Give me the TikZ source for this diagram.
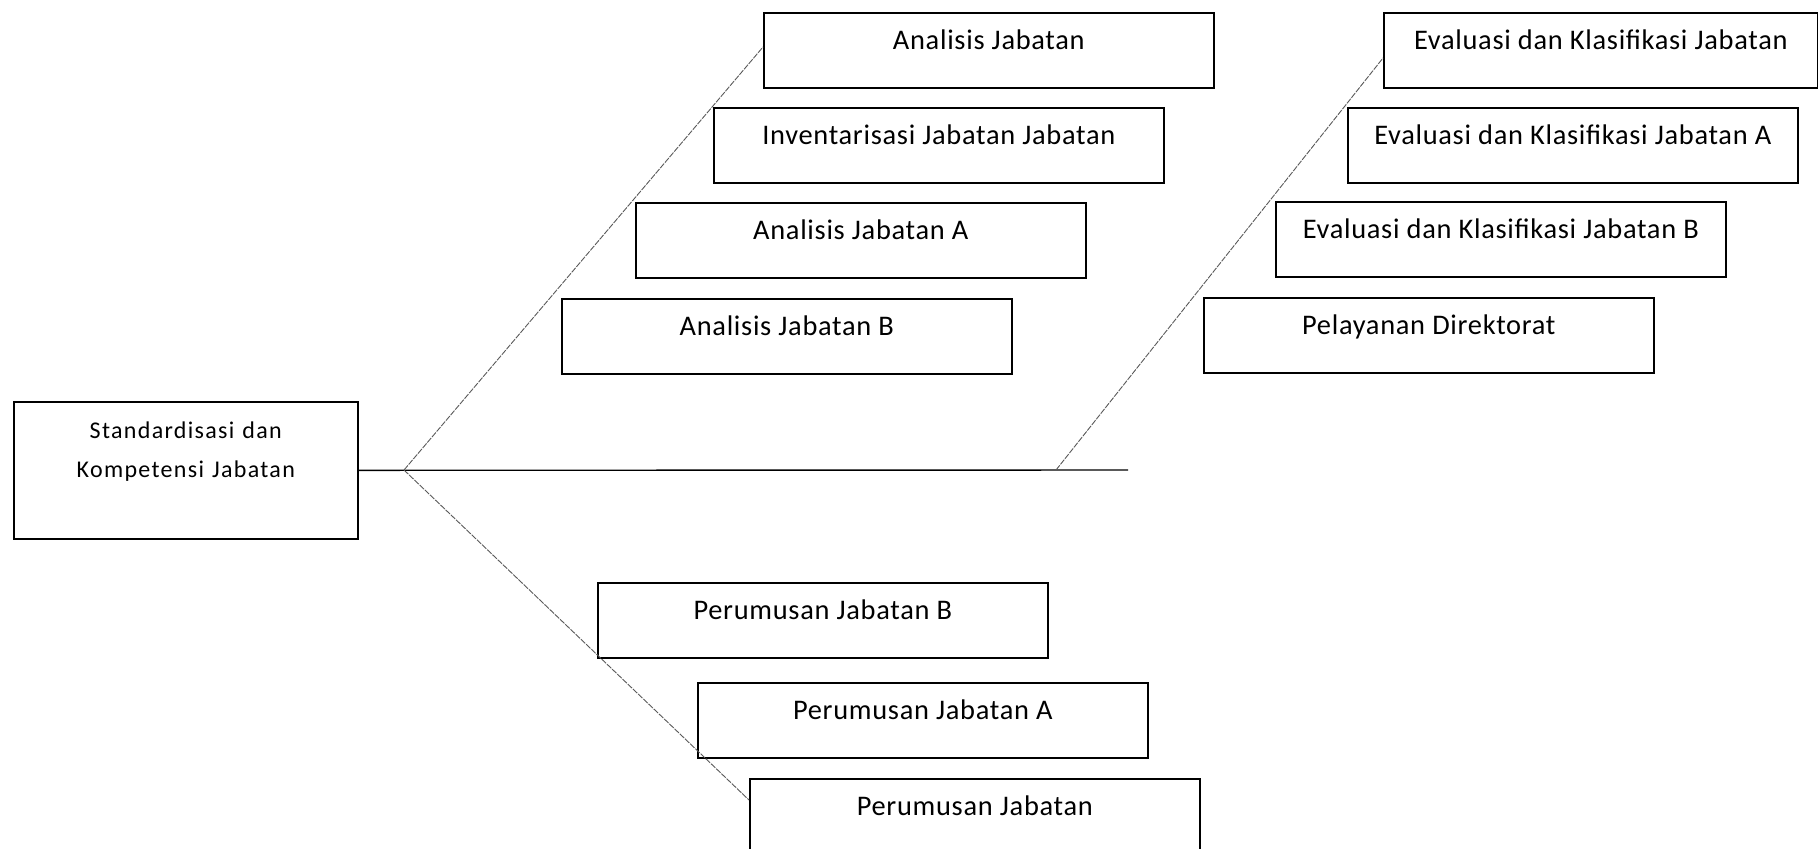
\documentclass[tikz,border=0pt]{standalone}
\usepackage{fontspec}
\setmainfont{Carlito}
\usetikzlibrary{calc}
\begin{document}
\begin{tikzpicture}[x=0.5pt,y=-0.5pt,
  box/.style={draw=black, line width=0.8pt, rectangle, anchor=north west,
    inner sep=0pt, minimum width=225pt, minimum height=37.5pt,
    text height=18.5pt, text depth=19pt,
    font=\fontsize{14.2}{17}\selectfont\addfontfeatures{LetterSpace=2.5}},
  mainbox/.style={draw=black, line width=0.8pt, rectangle, anchor=north west,
    inner sep=0pt, minimum width=172pt, minimum height=68.5pt,
    text width=172pt, align=center, text height=18.5pt, text depth=50pt,
    font=\fontsize{12}{19.5}\selectfont\addfontfeatures{LetterSpace=5.5}},
  spine/.style={draw=black, line width=0.7pt},
  rib/.style={draw=black!65, line width=0.45pt, dash pattern=on 3pt off 0.6pt}
]
\useasboundingbox (0,0) rectangle (1818,848);
\clip (0,0) rectangle (1818,848);

% main box
\node[mainbox] (main) at (13,401) {Standardisasi dan\\Kompetensi Jabatan};

% upper left group
\node[box] (aj)  at (763,12)  {Analisis Jabatan};
\node[box] (ij)  at (713,107) {Inventarisasi Jabatan Jabatan};
\node[box] (aja) at (635,202) {Analisis Jabatan A};
\node[box] (ajb) at (561,298) {Analisis Jabatan B};

% upper right group
\node[box, minimum width=217pt] (ek) at (1383,12) {Evaluasi dan Klasifikasi Jabatan};
\node[box] (eka) at (1347,107) {Evaluasi dan Klasifikasi Jabatan A};
\node[box] (ekb) at (1275,201) {Evaluasi dan Klasifikasi Jabatan B};
\node[box] (pd)  at (1203,297) {Pelayanan Direktorat};

% lower group
\node[box] (pjb) at (597,582) {Perumusan Jabatan B};
\node[box] (pja) at (697,682) {Perumusan Jabatan A};
\node[box] (pj)  at (749,778) {Perumusan Jabatan};

% spine
\coordinate (j1) at (404,470);
\coordinate (j2) at (1056,470);
\coordinate (send) at (1128,470);
\draw[spine] (main.east) -- (send);

% ribs
\coordinate (ajin) at ($(aj.north west)+(0,35)$);
\coordinate (ekin) at ($(ek.north west)+(0,46)$);
\coordinate (pjin) at ($(pj.north west)+(0,22)$);
\draw[rib] (j1) -- (ajin);
\draw[rib] (j2) -- (ekin);
\draw[rib] (j1) -- (pjin);
\end{tikzpicture}
\end{document}
